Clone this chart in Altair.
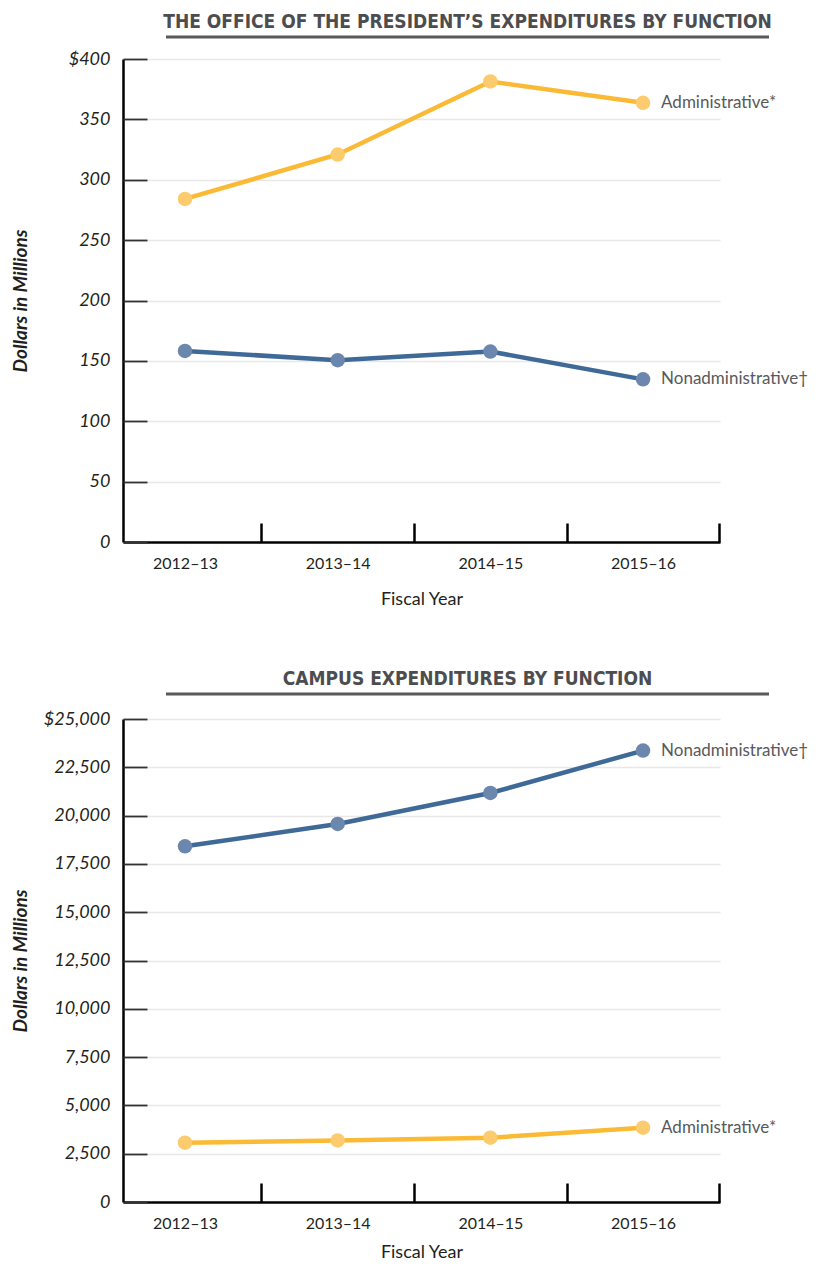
import json
import altair as alt
import pandas as pd

# ---------------- data ----------------
years = ["2012–13", "2013–14", "2014–15", "2015–16"]
series = ["Administrative", "Nonadministrative"]
series_labels = ["Administrative*", "Nonadministrative†"]

op_admin = [284.1, 320.9, 381.4, 363.7]
op_nonadmin = [158.2, 150.6, 157.7, 134.7]

campus_admin = [3069, 3188, 3328, 3846]
campus_nonadmin = [18411, 19566, 21170, 23364]

op_ticks = [0, 50, 100, 150, 200, 250, 300, 350, 400]
campus_ticks = [0, 2500, 5000, 7500, 10000, 12500, 15000, 17500, 20000, 22500, 25000]

band_edges = [0.5, 1.5, 2.5, 3.5]

line_colors = ["#FBBA36", "#3F6A98"]
point_colors = ["#FCCB6E", "#6C87AE"]

W, H = 597, 483
X_DOMAIN = [-0.406, 3.504]

FONT = "Lato"
TITLE_FONT = "DejaVu Sans Condensed, Roboto Condensed, Roboto"
TEXT_COLOR = "#231F20"


def build_df(admin, nonadmin):
    rows = []
    for s, lab, vals in zip(series, series_labels, [admin, nonadmin]):
        for i, (yr, v) in enumerate(zip(years, vals)):
            rows.append({"idx": i, "year": yr, "series": s, "label": lab, "value": v})
    return pd.DataFrame(rows)


def make_panel(title, admin, nonadmin, ticks, underline_y, xtitle_pad):
    df = build_df(admin, nonadmin)
    top = ticks[-1]
    year_expr = json.dumps(years, ensure_ascii=False) + "[datum.value]"
    y_label_expr = (
        f"datum.value == {top} ? '$' + format(datum.value, ',') : format(datum.value, ',')"
    )
    xscale = alt.Scale(domain=X_DOMAIN, nice=False, zero=False)
    yscale = alt.Scale(domain=[0, top], nice=False, zero=True)

    base = alt.Chart(df)

    lines = base.mark_line(strokeWidth=4.5).encode(
        x=alt.X(
            "idx:Q",
            scale=xscale,
            axis=alt.Axis(
                orient="bottom",
                values=[0, 1, 2, 3],
                labelExpr=year_expr,
                ticks=False,
                tickSize=0,
                grid=False,
                domainColor="#000000",
                domainWidth=2.5,
                labelFont=FONT,
                labelFontSize=16,
                labelColor=TEXT_COLOR,
                labelPadding=13,
                title="Fiscal Year",
                titleFont=FONT,
                titleFontSize=18,
                titleFontWeight="normal",
                titleColor=TEXT_COLOR,
                titlePadding=xtitle_pad,
            ),
        ),
        y=alt.Y(
            "value:Q",
            scale=yscale,
            axis=alt.Axis(
                orient="left",
                values=ticks,
                labelExpr=y_label_expr,
                ticks=False,
                tickSize=0,
                domainColor="#000000",
                domainWidth=2.5,
                grid=True,
                gridColor="#E8E8E8",
                gridWidth=1.5,
                labelFont=FONT,
                labelFontSize=18,
                labelFontStyle="italic",
                labelColor=TEXT_COLOR,
                labelPadding=13,
                title="Dollars in Millions",
                titleFont=FONT,
                titleFontSize=19,
                titleFontWeight="bold",
                titleFontStyle="italic",
                titleColor=TEXT_COLOR,
                titleX=-93,
                titleY=H / 2,
                titleAngle=-90,
            ),
        ),
        stroke=alt.Stroke(
            "series:N", scale=alt.Scale(domain=series, range=line_colors), legend=None
        ),
        detail="series:N",
    )

    points = base.mark_circle(size=210, opacity=1).encode(
        x=alt.X(
            "idx:Q",
            scale=xscale,
            axis=alt.Axis(
                orient="top",
                offset=-H,
                values=band_edges,
                labels=False,
                domain=False,
                grid=False,
                ticks=True,
                tickSize=19,
                tickWidth=2.5,
                tickColor="#000000",
                title=None,
            ),
        ),
        y=alt.Y(
            "value:Q",
            scale=yscale,
            axis=alt.Axis(
                orient="right",
                offset=-W,
                values=ticks,
                labels=False,
                domain=False,
                grid=False,
                ticks=True,
                tickSize=24,
                tickWidth=1.8,
                tickColor="#333333",
                title=None,
            ),
        ),
        fill=alt.Fill(
            "series:N", scale=alt.Scale(domain=series, range=point_colors), legend=None
        ),
    )

    labels = base.transform_filter(alt.datum.idx == 3).mark_text(
        align="left", baseline="middle", dx=18, font=FONT, fontSize=17, color="#58595B"
    ).encode(
        x=alt.X("idx:Q", scale=xscale, axis=None),
        y=alt.Y("value:Q", scale=yscale, axis=None),
        text="label:N",
    )

    underline = alt.Chart(pd.DataFrame({"u": [0]})).mark_rule(
        stroke="#58595B", strokeWidth=3
    ).encode(x=alt.value(43), x2=alt.value(646), y=alt.value(underline_y))

    chart = (
        alt.layer(lines, points, labels, underline)
        .resolve_axis(x="independent", y="independent")
        .properties(
            width=W,
            height=H,
            title=alt.TitleParams(
                text=title,
                font=TITLE_FONT,
                fontSize=19,
                fontWeight="bold",
                color="#4D4D4F",
                anchor="middle",
                frame="group",
                dx=46,
                offset=4,
            ),
        )
    )
    return chart


top_chart = make_panel(
    "THE OFFICE OF THE PRESIDENT’S EXPENDITURES BY FUNCTION",
    op_admin, op_nonadmin, op_ticks, -22, 19,
)
bottom_chart = make_panel(
    "CAMPUS EXPENDITURES BY FUNCTION",
    campus_admin, campus_nonadmin, campus_ticks, -25, 12,
)

chart = (
    alt.vconcat(top_chart, bottom_chart, spacing=61)
    .properties(padding={"left": 3, "top": 4, "right": 0, "bottom": 0})
    .configure_view(stroke=None)
)

chart.save("out.html", embed_options={"renderer": "svg", "actions": False})
